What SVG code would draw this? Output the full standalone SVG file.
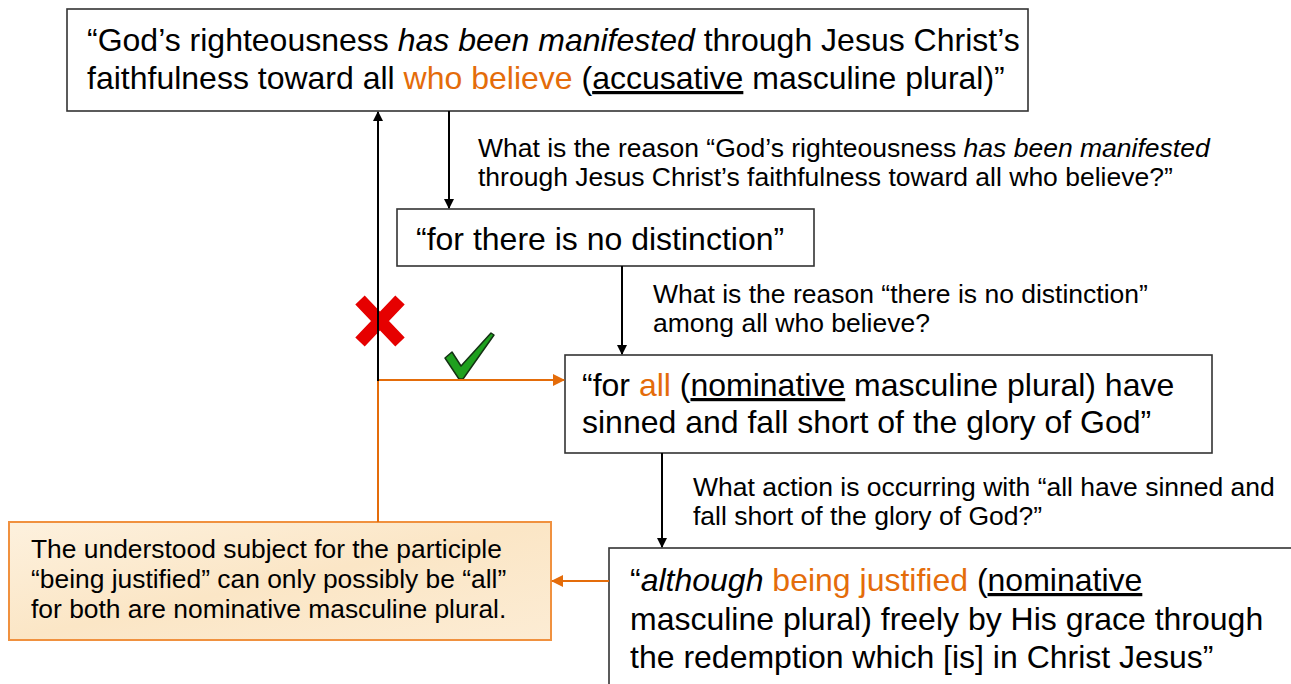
<svg xmlns="http://www.w3.org/2000/svg" width="1291" height="684" viewBox="0 0 1291 684">
<style>
text{font-family:"Liberation Sans",Arial,sans-serif;fill:#000}
.big{font-size:32px}
.lbl{font-size:26.5px}
.note{font-size:26.4px}
.box{fill:#fff;stroke:#333;stroke-width:1.6}
.or{fill:#e46c0a}
.ul{text-decoration:underline}
.k{stroke:#000;stroke-width:2;fill:none}
.o{stroke:#e46c0a;stroke-width:2;fill:none}
</style>
<defs>
<marker id="ak" markerWidth="10" markerHeight="10" refX="9" refY="5" orient="auto" markerUnits="userSpaceOnUse" viewBox="0 0 10 10"><path d="M0,0 L10,5 L0,10 z" fill="#000"/></marker>
<marker id="ao" markerWidth="12" markerHeight="12" refX="11" refY="6" orient="auto" markerUnits="userSpaceOnUse" viewBox="0 0 12 12"><path d="M0,0 L12,6 L0,12 z" fill="#e46c0a"/></marker>
<linearGradient id="bg" x1="0" y1="0" x2="1" y2="1"><stop offset="0" stop-color="#fdf1de"/><stop offset="0.5" stop-color="#fbe6c6"/><stop offset="1" stop-color="#fcecd4"/></linearGradient>
</defs>

<g id="n1">
<rect class="box" x="67" y="9" width="961" height="102"/>
<text class="big" x="87" y="51">“God’s righteousness <tspan font-style="italic">has been manifested</tspan> through Jesus Christ’s</text>
<text class="big" x="87" y="89">faithfulness toward all <tspan class="or">who believe</tspan> (<tspan class="ul">accusative</tspan> masculine plural)”</text>
</g>

<g id="n2">
<rect class="box" x="397" y="209" width="417" height="57"/>
<text class="big" x="416" y="250">“for there is no distinction”</text>
</g>

<g id="n3">
<rect class="box" x="565" y="355" width="647" height="98"/>
<text class="big" x="582" y="396">“for <tspan class="or">all</tspan> (<tspan class="ul">nominative</tspan> masculine plural) have</text>
<text class="big" x="582" y="433">sinned and fall short of the glory of God”</text>
</g>

<g id="n4">
<rect class="box" x="609" y="548" width="700" height="160"/>
<text class="big" x="630" y="591">“<tspan font-style="italic">although</tspan> <tspan class="or">being justified</tspan> (<tspan class="ul">nominative</tspan></text>
<text class="big" x="630" y="630">masculine plural) freely by His grace through</text>
<text class="big" x="630" y="668">the redemption which [is] in Christ Jesus”</text>
</g>

<g id="note">
<rect x="9" y="522" width="542" height="118" fill="url(#bg)" stroke="#f0913f" stroke-width="2"/>
<text class="note" x="31" y="558">The understood subject for the participle</text>
<text class="note" x="31" y="588">“being justified” can only possibly be “all”</text>
<text class="note" x="31" y="618">for both are nominative masculine plural.</text>
</g>

<g id="labels">
<text class="lbl" x="478" y="157">What is the reason “God’s righteousness <tspan font-style="italic">has been manifested</tspan></text>
<text class="lbl" x="478" y="186">through Jesus Christ’s faithfulness toward all who believe?”</text>
<text class="lbl" x="653" y="303">What is the reason “there is no distinction”</text>
<text class="lbl" x="653" y="332">among all who believe?</text>
<text class="lbl" x="693" y="496">What action is occurring with “all have sinned and</text>
<text class="lbl" x="693" y="525">fall short of the glory of God?”</text>
</g>

<g id="marks">
<path d="M360,300 L400,342 M400,300 L360,342" stroke="#e60000" stroke-width="13" fill="none"/>
<path d="M445,358 L452,352 L461,366 L491,333 L494,335 L463,379 L459,379 Z" fill="#1fa01f" stroke="#143214" stroke-width="1.5" stroke-linejoin="round"/>
</g>

<g id="connectors">
<line class="k" x1="449" y1="111" x2="449" y2="208" marker-end="url(#ak)"/>
<line class="k" x1="622" y1="266" x2="622" y2="354" marker-end="url(#ak)"/>
<line class="k" x1="662" y1="453" x2="662" y2="547" marker-end="url(#ak)"/>
<line class="o" x1="378" y1="380" x2="378" y2="522"/>
<line class="o" x1="378" y1="380" x2="564" y2="380" marker-end="url(#ao)"/>
<line class="o" x1="609" y1="581" x2="552" y2="581" marker-end="url(#ao)"/>
<line class="k" x1="378" y1="381" x2="378" y2="112" marker-end="url(#ak)"/>
</g>
</svg>
